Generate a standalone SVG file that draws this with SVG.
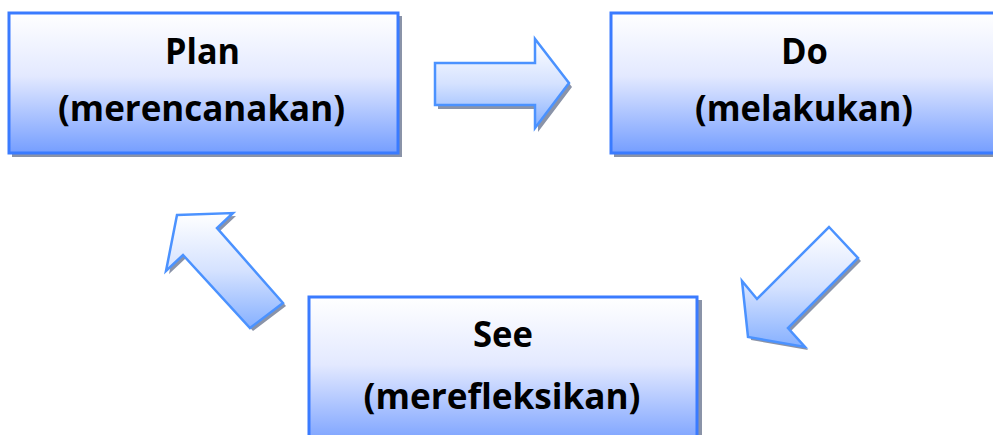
<svg xmlns="http://www.w3.org/2000/svg" width="993" height="435" viewBox="0 0 993 435">
  <defs>
    <linearGradient id="boxFill" x1="0" y1="0" x2="0" y2="1">
      <stop offset="0" stop-color="#ffffff"/>
      <stop offset="0.45" stop-color="#e3e9ff"/>
      <stop offset="1" stop-color="#759eff"/>
    </linearGradient>
    <linearGradient id="arrowFill" x1="0" y1="0" x2="0" y2="1">
      <stop offset="0" stop-color="#ffffff"/>
      <stop offset="0.5" stop-color="#d5e2ff"/>
      <stop offset="1" stop-color="#86b0ff"/>
    </linearGradient>
  </defs>
  <style>
    .shadow { fill: #8a93a8; }
    .box { fill: url(#boxFill); stroke: #3a7bff; stroke-width: 3; }
    .arrow { fill: url(#arrowFill); stroke: #4b92ff; stroke-width: 2.5; stroke-linejoin: miter; }
    .label { font-family: "Open Sans", "Liberation Sans", sans-serif; font-weight: bold; font-size: 36px; fill: #000; text-anchor: middle; }
  </style>
  <rect width="993" height="435" fill="#ffffff"/>

  <g id="plan">
    <rect class="shadow" x="12" y="16" width="390" height="141"/>
    <rect class="box" x="9" y="13" width="389" height="140"/>
    <text class="label" x="202.5" y="64" textLength="75" lengthAdjust="spacingAndGlyphs">Plan</text>
    <text class="label" x="201.5" y="121" textLength="287" lengthAdjust="spacingAndGlyphs">(merencanakan)</text>
  </g>

  <g id="do">
    <rect class="shadow" x="614" y="16" width="390" height="141"/>
    <rect class="box" x="611" y="13" width="390" height="140"/>
    <text class="label" x="804.5" y="64" textLength="47" lengthAdjust="spacingAndGlyphs">Do</text>
    <text class="label" x="804" y="121" textLength="218" lengthAdjust="spacingAndGlyphs">(melakukan)</text>
  </g>

  <g id="see">
    <rect class="shadow" x="312" y="300" width="390" height="150"/>
    <rect class="box" x="309" y="297" width="388" height="150"/>
    <text class="label" x="503" y="347" textLength="60" lengthAdjust="spacingAndGlyphs">See</text>
    <text class="label" x="502" y="409" textLength="277" lengthAdjust="spacingAndGlyphs">(merefleksikan)</text>
  </g>

  <g id="connectors">
    <!-- plan to do -->
    <g id="arrow-plan-do">
      <polygon class="shadow" points="438,66 538,66 538,42 572,87 538,132 538,109 438,109"/>
      <polygon class="arrow" points="435,63 535,63 535,39 569,83 535,128 535,105 435,105"/>
    </g>
    <!-- do to see -->
    <g id="arrow-do-see">
      <polygon class="shadow" points="832,230 861,261 791,331 808,350 751,340 745,284 760,302"/>
      <polygon class="arrow" points="829,227 858,258 788,328 805,347 748,337 742,281 757,299"/>
    </g>
    <!-- see to plan -->
    <g id="arrow-see-plan">
      <polygon class="shadow" points="180,218 236,216 220,231 286,306 253,331 186,258 169,274"/>
      <polygon class="arrow" points="177,215 233,213 217,228 283,303 250,328 183,255 166,271"/>
    </g>
  </g>
</svg>
